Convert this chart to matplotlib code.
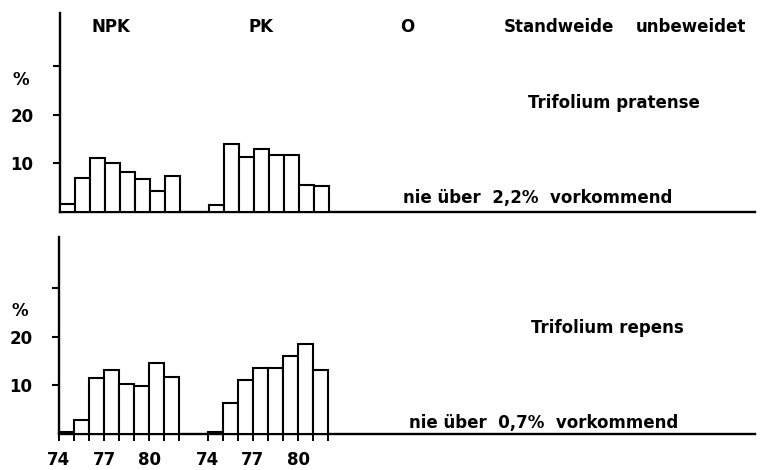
import matplotlib.pyplot as plt
import numpy as np

# Jahre 1974-1981
years = [74, 75, 76, 77, 78, 79, 80, 81]
tick_years = [74, 77, 80]
groups = ["NPK", "PK"]
group_offset = [0.0, 9.9]

# Trifolium pratense (%)
pratense_npk = [1.7, 7.1, 11.1, 10.0, 8.2, 6.7, 4.3, 7.4]
pratense_pk = [1.4, 14.1, 11.4, 12.9, 11.8, 11.8, 5.6, 5.3]

# Trifolium repens (%)
repens_npk = [0.4, 2.8, 11.5, 13.2, 10.3, 9.8, 14.6, 11.8]
repens_pk = [0.5, 6.3, 11.1, 13.5, 13.5, 16.1, 18.6, 13.1]

W, H = 770, 470
fig = plt.figure(figsize=(W / 100, H / 100), dpi=100)
plt.rcParams['font.family'] = ['DejaVu Sans']
plt.rcParams['font.weight'] = 'bold'


def px_axes(left, top, right, bottom):
    return fig.add_axes([left / W, 1 - bottom / H, (right - left) / W, (bottom - top) / H])


def draw_panel(ax, series, ymax, show_x):
    for off, vals in zip(group_offset, series):
        x = np.array(years) - 74 + off
        ax.bar(x, vals, width=1, align='edge', facecolor='white',
               edgecolor='black', linewidth=1.5, zorder=3)
    ax.set_xlim(0, 46.3)
    ax.set_ylim(0, ymax)
    for s in ['top', 'right']:
        ax.spines[s].set_visible(False)
    for s in ['left', 'bottom']:
        ax.spines[s].set_linewidth(1.7)
    ax.set_yticks([10, 20, 30])
    ax.set_yticklabels(['10', '20', ''])
    ax.tick_params(axis='y', length=5, width=1.5, pad=14, labelsize=12)
    if show_x:
        edges = []
        for off in group_offset:
            edges += list(np.arange(0, 9) + off)
        ax.set_xticks(edges, minor=True)
        ax.tick_params(axis='x', which='minor', length=5, width=1.4)
        pos = []
        labs = []
        for off in group_offset:
            for y in tick_years:
                pos.append(y - 74 + off)
                labs.append(str(y))
        ax.set_xticks(pos)
        ax.set_xticklabels(labs)
        ax.tick_params(axis='x', which='major', length=5, width=1.4, pad=7, labelsize=12)
    else:
        ax.set_xticks([])


ax1 = px_axes(60, 13, 755, 212)
draw_panel(ax1, [pratense_npk, pratense_pk], 41, False)

ax2 = px_axes(59, 237, 755, 434)
draw_panel(ax2, [repens_npk, repens_pk], 40.6, True)


def ftext(x, y, s, **kw):
    fig.text(x / W, 1 - y / H, s, fontsize=12, va='center', **kw)


ftext(111, 27, "NPK", ha='center')
ftext(261, 27, "PK", ha='center')
ftext(407, 27, "O", ha='center')
ftext(559, 27, "Standweide", ha='center')
ftext(691, 27, "unbeweidet", ha='center')

ftext(21, 80, "%", ha='center')
ftext(20, 311, "%", ha='center')

ftext(614, 103, "Trifolium pratense", ha='center')
ftext(607, 328, "Trifolium repens", ha='center')

ftext(538, 198, "nie über  2,2%  vorkommend", ha='center')
ftext(544, 423, "nie über  0,7%  vorkommend", ha='center')

fig.savefig("out.png", dpi=100)
